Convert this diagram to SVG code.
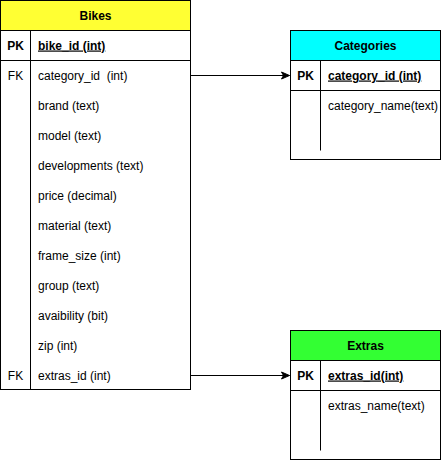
<svg xmlns="http://www.w3.org/2000/svg" width="441" height="461" viewBox="0 0 441 461">
<style>
text{font-family:"Liberation Sans",Arial,Helvetica,sans-serif;font-size:12px;fill:#000}
.t{font-weight:bold;text-anchor:middle}
.k{font-weight:bold;text-anchor:middle}
.fk{text-anchor:middle}
.pk{font-weight:bold;text-decoration:underline}
.ln{stroke:#000;stroke-width:1;fill:none}
.box{stroke:#000;stroke-width:1;fill:#fff}
</style>
<defs>
<marker id="arr" markerWidth="10" markerHeight="10" refX="9" refY="5" orient="auto" markerUnits="userSpaceOnUse">
<path d="M1,1.5 L9,5 L1,8.5 L3,5 Z" fill="#000" stroke="#000" stroke-width="1"/>
</marker>
</defs>
<g id="connectors">
<path class="ln" d="M190.5,75.5 L289.5,75.5" marker-end="url(#arr)"/>
<path class="ln" d="M190.5,375.5 L289.5,375.5" marker-end="url(#arr)"/>
</g>
<g id="bikes">
<rect class="box" x="0.5" y="0.5" width="190" height="389"/>
<rect x="0.5" y="0.5" width="190" height="30" fill="#ffff33" stroke="#000"/>
<line class="ln" x1="0.5" y1="60.5" x2="190.5" y2="60.5"/>
<line class="ln" x1="30.5" y1="30.5" x2="30.5" y2="389.5"/>
<text class="t" x="95.5" y="19.5">Bikes</text>
<text class="k" x="15.5" y="49.5">PK</text>
<text class="pk" x="38" y="49.5">bike_id (int)</text>
<text class="fk" x="15.5" y="79.5">FK</text>
<text x="38" y="79.5" xml:space="preserve">category_id  (int)</text>
<text x="38" y="109.5">brand (text)</text>
<text x="38" y="139.5">model (text)</text>
<text x="38" y="169.5">developments (text)</text>
<text x="38" y="199.5">price (decimal)</text>
<text x="38" y="229.5">material (text)</text>
<text x="38" y="259.5">frame_size (int)</text>
<text x="38" y="289.5">group (text)</text>
<text x="38" y="319.5">avaibility (bit)</text>
<text x="38" y="349.5">zip (int)</text>
<text class="fk" x="15.5" y="379.5">FK</text>
<text x="38" y="379.5">extras_id (int)</text>
</g>
<g id="categories">
<rect class="box" x="290.5" y="30.5" width="150" height="129"/>
<rect x="290.5" y="30.5" width="150" height="30" fill="#00ffff" stroke="#000"/>
<line class="ln" x1="290.5" y1="90.5" x2="440.5" y2="90.5"/>
<line class="ln" x1="320.5" y1="60.5" x2="320.5" y2="150.5"/>
<text class="t" x="365.5" y="49.5">Categories</text>
<text class="k" x="305.5" y="79.5">PK</text>
<text class="pk" x="328" y="79.5">category_id (int)</text>
<text x="328" y="109.5">category_name(text)</text>
</g>
<g id="extras">
<rect class="box" x="290.5" y="330.5" width="150" height="129"/>
<rect x="290.5" y="330.5" width="150" height="30" fill="#33ff33" stroke="#000"/>
<line class="ln" x1="290.5" y1="390.5" x2="440.5" y2="390.5"/>
<line class="ln" x1="320.5" y1="360.5" x2="320.5" y2="450.5"/>
<text class="t" x="365.5" y="349.5">Extras</text>
<text class="k" x="305.5" y="379.5">PK</text>
<text class="pk" x="328" y="379.5">extras_id(int)</text>
<text x="328" y="409.5">extras_name(text)</text>
</g>
</svg>
